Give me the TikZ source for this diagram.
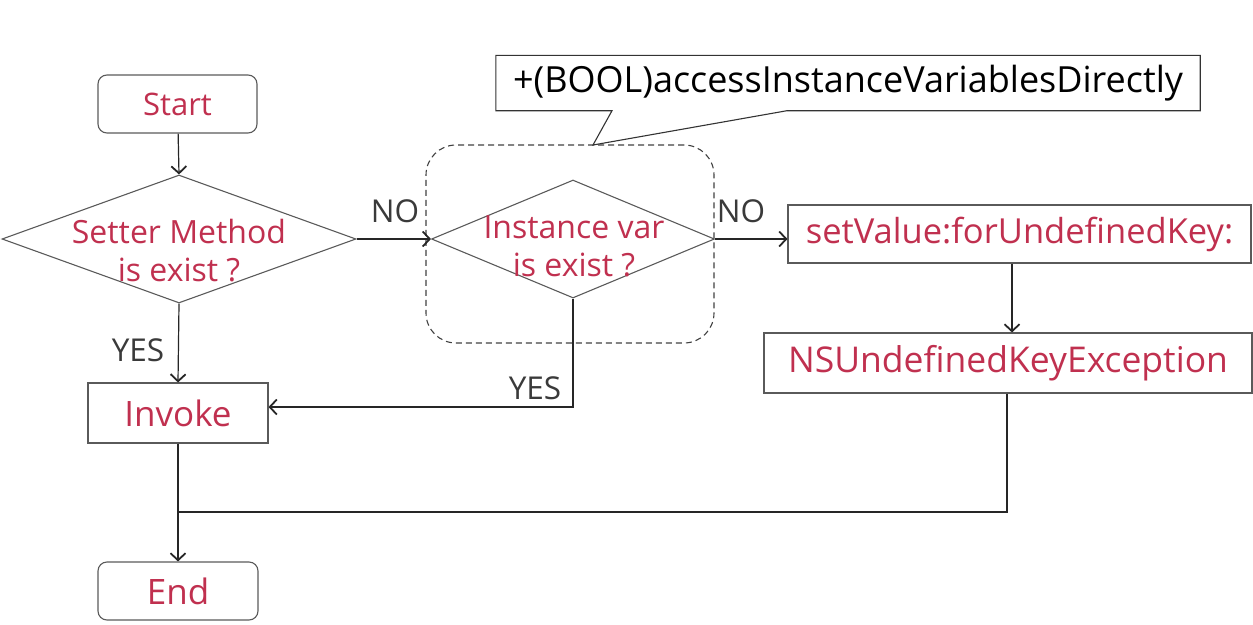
\documentclass[tikz,border=0pt]{standalone}
\usepackage{fontspec}
\setmainfont{Open Sans}
\usetikzlibrary{shapes.geometric,arrows.meta}
\definecolor{kvred}{HTML}{C0304F}
\definecolor{kvgray}{HTML}{5A5A5A}
\definecolor{kvlabel}{HTML}{3A3A3A}
\tikzset{
  box/.style={draw=kvgray, line width=1.1pt, rectangle, inner sep=0pt, text=kvred, font=\fontsize{34.5}{38}\selectfont},
  term/.style={box, rounded corners=9pt},
  decision/.style={draw=kvgray, line width=1.1pt, diamond, inner sep=0pt},
  dtext/.style={text=kvred, align=center, font=\fontsize{32}{38}\selectfont},
  lbl/.style={text=kvlabel, font=\fontsize{31.5}{34}\selectfont},
  conn/.style={draw=black!85, line width=1.2pt},
  flow/.style={conn, -{Straight Barb[length=7pt,width=15pt,line width=1.8pt]}},
}
\begin{document}
\begin{tikzpicture}[x=1pt,y=-1pt]
\useasboundingbox (0,0) rectangle (1253,624);

% group frame around the instance-variable check
\node[draw=black!75, dash pattern=on 6pt off 4pt, line width=1.1pt, rounded corners=30pt,
      minimum width=288pt, minimum height=198pt] (grp) at (570,244) {};

% callout naming the class method
\node[text=black, font=\fontsize{36}{40}\selectfont, minimum width=704pt,
      minimum height=55pt, inner sep=0pt] (call) at (848,83) {+(BOOL)accessInstanceVariablesDirectly};
\coordinate (tip) at (593,145);
\draw[draw=black!80, line width=1.1pt]
  (call.north west) -- (call.north east) -- (call.south east)
  -- ([xshift=-61pt]call.south) -- (tip) -- ([xshift=-236pt]call.south)
  -- (call.south west) -- cycle;

% flow nodes
\node[term, minimum width=159pt, minimum height=58pt, font=\fontsize{31}{36}\selectfont] (start) at (177.5,104) {Start};
\node[decision, minimum width=354pt, minimum height=128pt] (d1) at (179,239) {};
\node[dtext] (d1t) at (179,251) {Setter Method\\is exist ?};
\node[decision, minimum width=283pt, minimum height=118pt] (d2) at (573,239) {};
\node[dtext] (d2t) at (574,246) {Instance var\\is exist ?};
\node[box, minimum width=463pt, minimum height=58pt] (setv) at (1019.5,234) {setValue:forUndefinedKey:};
\node[box, minimum width=488pt, minimum height=60pt, font=\fontsize{35.5}{40}\selectfont] (nsu) at (1008,363) {NSUndefinedKeyException};
\node[box, minimum width=180pt, minimum height=60pt, font=\fontsize{35}{40}\selectfont] (inv) at (178,413) {Invoke};
\node[term, minimum width=160pt, minimum height=58pt, font=\fontsize{35}{40}\selectfont] (end) at (178,591) {End};

% branch labels
\node[lbl] (no1) at (395,211) {NO};
\node[lbl] (no2) at (741,211) {NO};
\node[lbl] (yes1) at (138,350) {YES};
\node[lbl] (yes2) at (535,388) {YES};

% connectors
\coordinate (merge) at (178,512);
\draw[flow] (start) -- (d1.north);
\draw[flow] (d1.east) -- (d2.west);
\draw[flow] (d2.east) -- (d2.east -| setv.west);
\draw[flow] (d1.south) -- (inv.north);
\draw[flow] (d2.south) |- ([yshift=6pt]inv.east);
\draw[flow] ([xshift=-7.5pt]setv.south) -- ([xshift=-7.5pt]setv.south |- nsu.north);
\draw[conn] ([xshift=-1pt]nsu.south) |- (merge);
\draw[flow] (inv.south) -- (end.north);
\end{tikzpicture}
\end{document}
